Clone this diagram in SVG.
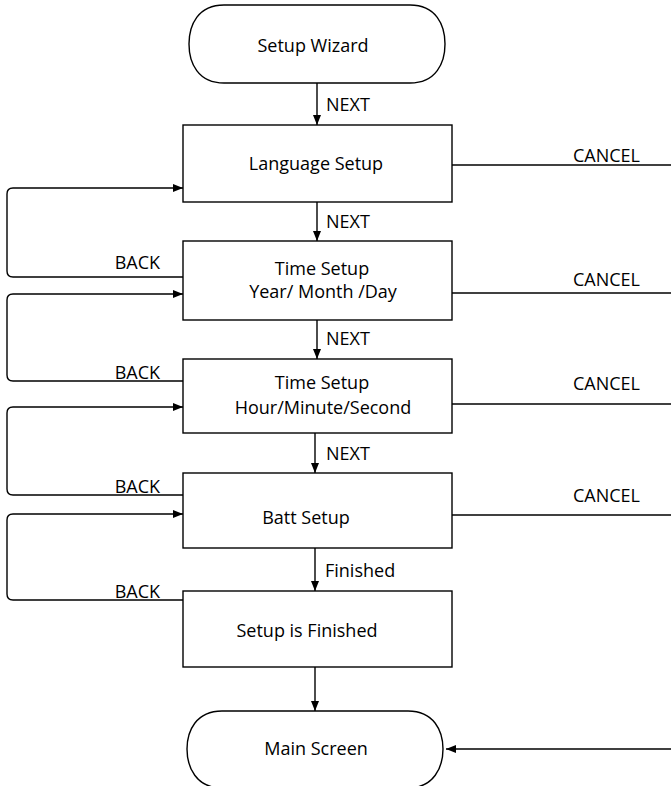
<svg xmlns="http://www.w3.org/2000/svg" width="671" height="786" viewBox="0 0 671 786">
<defs>
<marker id="ah" markerWidth="10" markerHeight="8" refX="10" refY="4" orient="auto" markerUnits="userSpaceOnUse">
<path d="M0,0 L10,4 L0,8 Z" fill="#000"/>
</marker>
<style>
text{font-family:"Open Sans","Noto Sans","Liberation Sans",sans-serif;font-size:18px;fill:#000}
.m{text-anchor:middle}
.box{fill:#fff;stroke:#000;stroke-width:1.4}
.c{fill:none;stroke:#000;stroke-width:1.4}
</style>
</defs>
<rect width="671" height="786" fill="#fff"/>
<g id="connectors">
<line class="c" x1="317" y1="83" x2="317" y2="125" marker-end="url(#ah)"/>
<line class="c" x1="317" y1="202" x2="317" y2="241" marker-end="url(#ah)"/>
<line class="c" x1="317" y1="320" x2="317" y2="359" marker-end="url(#ah)"/>
<line class="c" x1="315" y1="433" x2="315" y2="473" marker-end="url(#ah)"/>
<line class="c" x1="315" y1="548" x2="315" y2="591" marker-end="url(#ah)"/>
<line class="c" x1="315" y1="667" x2="315" y2="711" marker-end="url(#ah)"/>
<path class="c" d="M183 277 H13 Q7 277 7 271 V194 Q7 188 13 188 H183" marker-end="url(#ah)"/>
<path class="c" d="M183 381 H13 Q7 381 7 375 V300 Q7 294 13 294 H183" marker-end="url(#ah)"/>
<path class="c" d="M183 495 H13 Q7 495 7 489 V413 Q7 407 13 407 H183" marker-end="url(#ah)"/>
<path class="c" d="M183 600 H13 Q7 600 7 594 V520 Q7 514 13 514 H183" marker-end="url(#ah)"/>
<line class="c" x1="452" y1="165" x2="671" y2="165"/>
<line class="c" x1="452" y1="293" x2="671" y2="293"/>
<line class="c" x1="452" y1="404" x2="671" y2="404"/>
<line class="c" x1="452" y1="515" x2="671" y2="515"/>
<line class="c" x1="671" y1="749" x2="446" y2="749" marker-end="url(#ah)"/>
<text x="326" y="111">NEXT</text>
<text x="326" y="228">NEXT</text>
<text x="326" y="345">NEXT</text>
<text x="326" y="460">NEXT</text>
<text x="325" y="577">Finished</text>
<text x="160" y="269" text-anchor="end">BACK</text>
<text x="160" y="379" text-anchor="end">BACK</text>
<text x="160" y="493" text-anchor="end">BACK</text>
<text x="160" y="598" text-anchor="end">BACK</text>
<text x="573" y="162">CANCEL</text>
<text x="573" y="286">CANCEL</text>
<text x="573" y="390">CANCEL</text>
<text x="573" y="502">CANCEL</text>
</g>
<g id="setup-wizard">
<path class="box" d="M224 5 H410 C436 5 445 25 445 44 C445 63 436 83 410 83 H224 C198 83 189 63 189 44 C189 25 198 5 224 5 Z"/>
<text class="m" x="313" y="52">Setup Wizard</text>
</g>
<g id="language-setup">
<rect class="box" x="183" y="125" width="269" height="77"/>
<text class="m" x="316" y="170">Language Setup</text>
</g>
<g id="time-setup-date">
<rect class="box" x="183" y="241" width="269" height="79"/>
<text class="m" x="322" y="275">Time Setup</text>
<text class="m" x="323" y="298">Year/ Month /Day</text>
</g>
<g id="time-setup-time">
<rect class="box" x="183" y="359" width="269" height="74"/>
<text class="m" x="322" y="389">Time Setup</text>
<text class="m" x="323" y="414">Hour/Minute/Second</text>
</g>
<g id="batt-setup">
<rect class="box" x="183" y="473" width="269" height="75"/>
<text class="m" x="306" y="524">Batt Setup</text>
</g>
<g id="setup-finished">
<rect class="box" x="183" y="591" width="269" height="76"/>
<text class="m" x="307" y="637">Setup is Finished</text>
</g>
<g id="main-screen">
<path class="box" d="M222 711 H408 C434 711 443 731 443 749 C443 767 434 788 408 788 H222 C196 788 187 767 187 749 C187 731 196 711 222 711 Z"/>
<text class="m" x="316" y="755">Main Screen</text>
</g>
</svg>
